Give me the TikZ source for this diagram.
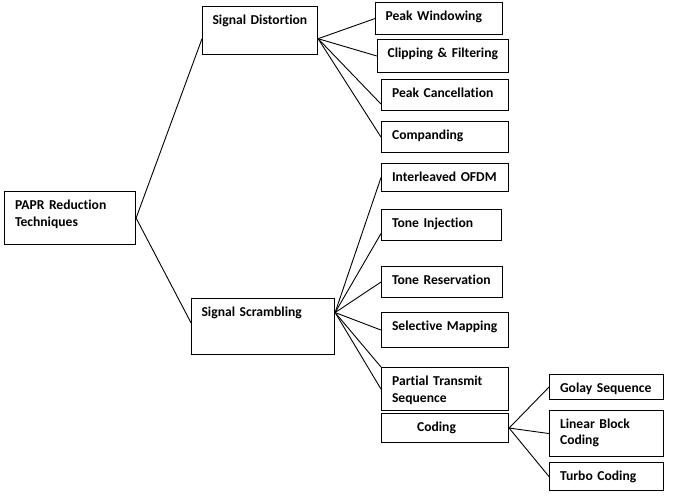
\documentclass[tikz,border=0pt]{standalone}
\usepackage{fontspec}
\setmainfont[Ligatures=NoCommon, WordSpace=0.8]{Carlito}
\begin{document}
\begin{tikzpicture}[x=1pt, y=-1pt,
        box/.style={draw, line width=1.1pt, anchor=north west, align=left, inner xsep=10.5pt, inner ysep=0pt,
            text height=18pt, font=\fontsize{13.6}{17}\selectfont\bfseries},
        link/.style={line width=0.9pt}
    ]
        \useasboundingbox (0,0) rectangle (674,497);

        % Root
        \node[box, text width=110pt, text depth=35pt] (papr) at (4,191) {PAPR Reduction\\Techniques};

        % Main branches
        \node[box, text width=95pt, text depth=30pt, inner xsep=10pt] (dist) at (202,6) {\mbox{Signal Distortion}};
        \node[box, text width=123pt, text depth=38pt, inner xsep=10pt] (scr) at (191,298) {Signal Scrambling};

        % Signal distortion techniques
        \node[box, text width=107pt, text depth=14pt, inner xsep=10pt] (pw) at (375,2) {Peak Windowing};
        \node[box, text width=111pt, text depth=15pt, inner xsep=10pt] (cf) at (377,39) {\mbox{Clipping \& Filtering}};
        \node[box, text width=106pt, text depth=13pt] (pc) at (381,79) {\mbox{Peak Cancellation}};
        \node[box, text width=106pt, text depth=13pt] (comp) at (381,121) {Companding};

        % Signal scrambling techniques
        \node[box, text width=106pt, text depth=10pt] (iofdm) at (381,163) {\mbox{Interleaved OFDM}};
        \node[box, text width=99pt, text depth=13pt] (ti) at (381,209) {Tone Injection};
        \node[box, text width=100pt, text depth=13pt] (tr) at (381,266) {\mbox{Tone Reservation}};
        \node[box, text width=106pt, text depth=17pt] (sm) at (381,312) {\mbox{Selective Mapping}};
        \node[box, text width=106pt, text depth=25pt] (pts) at (381,367) {Partial Transmit\\Sequence};
        \node[box, text width=106pt, text depth=11pt] (cod) at (381,413) {\hspace*{25pt}Coding};

        % Coding techniques
        \node[box, text width=93pt, text depth=7pt] (golay) at (549,374) {\mbox{Golay Sequence}};
        \node[box, text width=93pt, text depth=28pt, font=\fontsize{13.6}{16}\selectfont\bfseries] (lbc) at (549,410) {Linear Block\\Coding};
        \node[box, text width=93pt, text depth=10pt] (turbo) at (549,462) {Turbo Coding};

        % Connessioni root
        \draw[link] (papr.east) -- (dist.188);
        \draw[link] (papr.east) -- (scr.177);

        % Connessioni signal distortion
        \draw[link] (dist.352) -- (pw.west);
        \draw[link] (dist.352) -- (cf.west);
        \draw[link] (dist.352) -- (pc.188);
        \draw[link] (dist.352) -- (comp.west);

        % Connessioni signal scrambling
        \draw[link] (scr.11) -- (iofdm.west);
        \draw[link] (scr.11) -- (ti.188);
        \draw[link] (scr.11) -- (tr.west);
        \draw[link] (scr.11) -- (sm.west);
        \draw[link] (scr.11) -- (pts.north west);
        \draw[link] (scr.11) -- (pts.west);

        % Connessioni coding
        \draw[link] (cod.east) -- (golay.west);
        \draw[link] (cod.east) -- (lbc.west);
        \draw[link] (cod.east) -- (turbo.west);
    \end{tikzpicture}
\end{document}
